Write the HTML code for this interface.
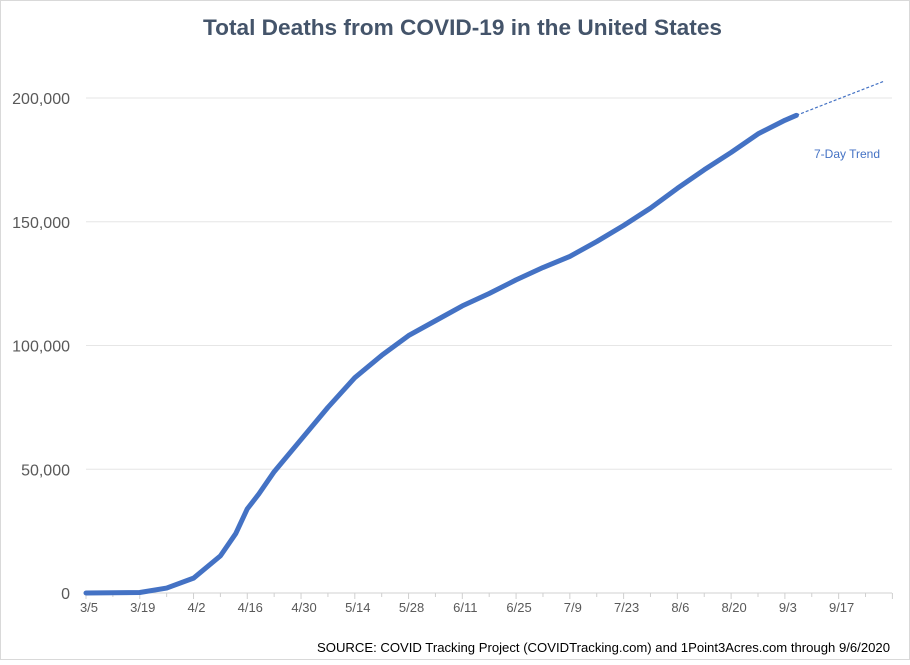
<!DOCTYPE html>
<html><head><meta charset="utf-8"><style>
body{margin:0;background:#fff;font-family:"Liberation Sans",sans-serif}
svg text{font-family:"Liberation Sans",sans-serif}
</style></head><body>
<svg id="chart" width="910" height="660" xmlns="http://www.w3.org/2000/svg">
<rect x="0.5" y="0.5" width="909" height="659" fill="#fff" stroke="#d9d9d9"/>
<text x="203" y="35" textLength="519" lengthAdjust="spacingAndGlyphs" font-size="22" font-weight="bold" fill="#44546a">Total Deaths from COVID-19 in the United States</text>
<g id="grid"></g><g id="axes"></g><g id="series"></g>
<text x="814" y="158" font-size="12" fill="#4472c4">7-Day Trend</text>
<text x="317" y="652" textLength="573" lengthAdjust="spacingAndGlyphs" font-size="13" fill="#000">SOURCE: COVID Tracking Project (COVIDTracking.com) and 1Point3Acres.com through 9/6/2020</text>
</svg>
<script>
const days=[0,14,21,28,35,39,42,45,49,56,63,70,77,84,91,98,105,112,119,126,133,140,147,154,161,168,175,182,185];
const deaths=[0,200,2000,6000,15000,24000,34000,40000,49000,62000,75000,87000,96000,104000,110000,116000,121000,126500,131500,136000,142000,148500,155500,163500,171000,178000,185500,191000,193000];
const trendDays=[185,208];
const trendVals=[193000,206900];
const xTickLabels=["3/5","3/19","4/2","4/16","4/30","5/14","5/28","6/11","6/25","7/9","7/23","8/6","8/20","9/3","9/17"];
const yTicks=[0,50000,100000,150000,200000];
const NS="http://www.w3.org/2000/svg";
const x=d=>86+d*3.84, y=v=>593-v/200000*495;
function mk(t,a,p){const e=document.createElementNS(NS,t);for(const k in a)e.setAttribute(k,a[k]);p.appendChild(e);return e;}
const g=document.getElementById('grid'),ax=document.getElementById('axes'),s=document.getElementById('series');
yTicks.forEach(v=>{
 const l=mk('line',{x1:86,x2:892,y1:y(v),y2:y(v),stroke:v?'#e6e6e6':'#d0d0d0','stroke-width':1},g);
 
 
 const t=mk('text',{x:70,y:y(v)+6,'text-anchor':'end','font-size':16,fill:'#595959'},ax);
 t.textContent=v.toLocaleString('en-US');
 
 
});
for(let d=0;d<=210;d+=7){
 const tk=mk('line',{x1:x(d),x2:x(d),y1:593,y2:d%14?597:599,stroke:'#d0d0d0'},ax);
 
 
}
xTickLabels.forEach((lab,i)=>{
 const t=mk('text',{x:x(i*14)+3,y:612,'text-anchor':'middle','font-size':13,fill:'#595959'},ax);
 t.textContent=lab;
 
 
});
const p=mk('polyline',{points:days.map((d,i)=>x(d)+','+y(deaths[i])).join(' '),fill:'none',stroke:'#4472c4','stroke-width':5,'stroke-linejoin':'round','stroke-linecap':'round'},s);


const tr=mk('polyline',{points:trendDays.map((d,i)=>x(d)+','+y(trendVals[i])).join(' '),fill:'none',stroke:'#4472c4','stroke-width':1.2,'stroke-dasharray':'3,2'},s);


</script>
</body></html>
